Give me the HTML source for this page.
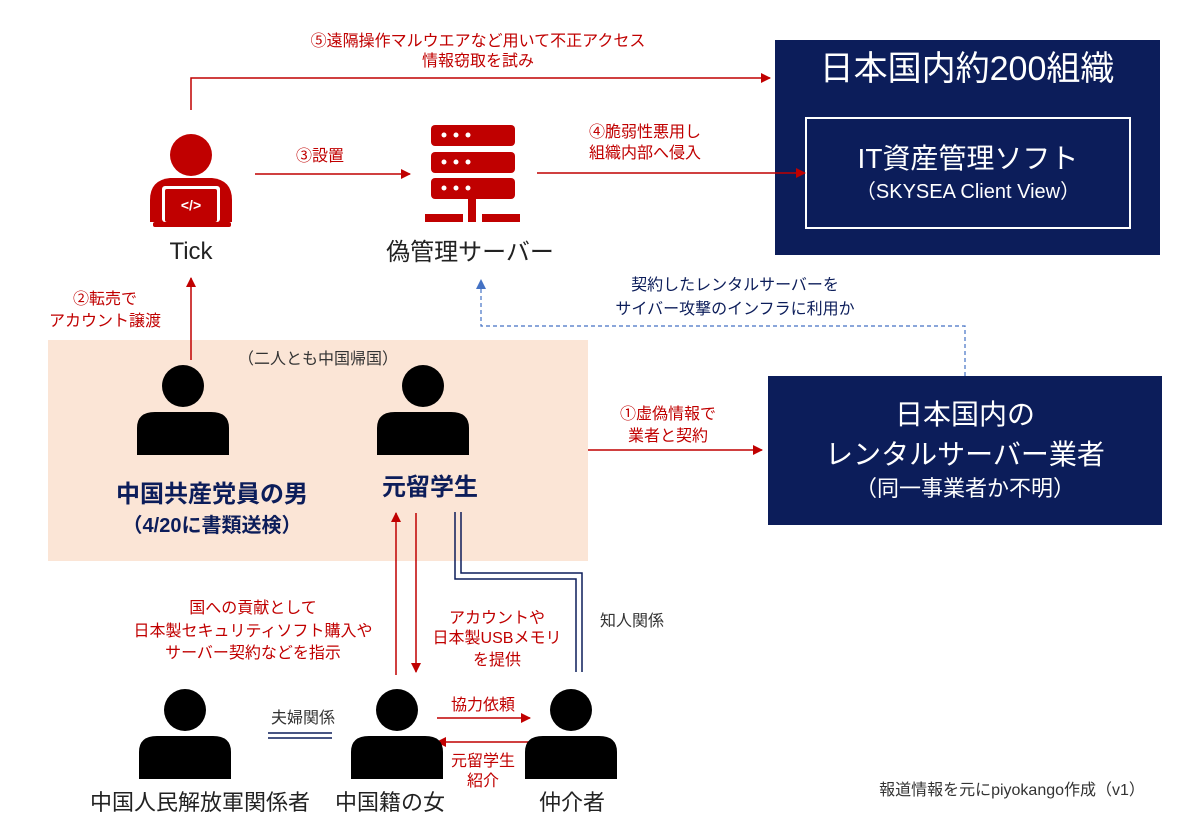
<!DOCTYPE html>
<html><head><meta charset="utf-8"><style>
body{margin:0;background:#fff;}
svg text{font-family:"Liberation Sans","Noto Sans CJK JP",sans-serif;}
</style></head><body>
<svg width="1200" height="831" viewBox="0 0 1200 831" xmlns="http://www.w3.org/2000/svg">
<defs>
<marker id="ar" markerWidth="10" markerHeight="10" refX="9" refY="5" orient="auto" markerUnits="userSpaceOnUse"><path d="M0,0 L10,5 L0,10 z" fill="#c00000"/></marker>
<marker id="ab" markerWidth="10" markerHeight="10" refX="9" refY="5" orient="auto" markerUnits="userSpaceOnUse"><path d="M0,0 L10,5 L0,10 z" fill="#4472c4"/></marker>
<g id="person"><circle cx="0" cy="-24" r="21"/><path d="M-46,45 L-46,18 Q-46,2 -28,2 L28,2 Q46,2 46,18 L46,45 z"/></g>
</defs>
<rect x="48" y="340" width="540" height="221" fill="#fbe5d6"/>
<rect x="775" y="40" width="385" height="215" fill="#0c1d5a"/>
<text x="967" y="80" font-size="34" fill="#fff" text-anchor="middle">日本国内約200組織</text>
<rect x="806" y="118" width="324" height="110" fill="none" stroke="#fff" stroke-width="2"/>
<text x="968" y="168" font-size="28" fill="#fff" text-anchor="middle">IT資産管理ソフト</text>
<text x="968" y="198" font-size="20" fill="#fff" text-anchor="middle">（SKYSEA Client View）</text>
<rect x="768" y="376" width="394" height="149" fill="#0c1d5a"/>
<text x="965" y="424" font-size="28" fill="#fff" text-anchor="middle">日本国内の</text>
<text x="965" y="464" font-size="28" fill="#fff" text-anchor="middle">レンタルサーバー業者</text>
<text x="965" y="496" font-size="22" fill="#fff" text-anchor="middle">（同一事業者か不明）</text>
<g fill="#c00000">
<circle cx="191" cy="155" r="21"/>
<path d="M150,222 L150,200 Q150,180 170,178 L212,178 Q232,180 232,200 L232,222 z"/>
<rect x="162" y="186" width="58" height="36" rx="3" fill="#fff"/>
<rect x="165" y="189" width="52" height="33" rx="2"/>
<rect x="153" y="222" width="78" height="5" rx="2"/>
</g>
<text x="191" y="210" font-size="14" fill="#fff" text-anchor="middle" font-weight="bold">&lt;/&gt;</text>
<text x="191" y="259" font-size="24" fill="#222" text-anchor="middle">Tick</text>
<g fill="#c00000">
<rect x="431" y="125" width="84" height="21" rx="4"/>
<rect x="431" y="152" width="84" height="21" rx="4"/>
<rect x="431" y="178" width="84" height="21" rx="4"/>
<rect x="468" y="199" width="8" height="15"/>
<rect x="425" y="214" width="38" height="8"/><rect x="468" y="214" width="8" height="8"/><rect x="482" y="214" width="38" height="8"/>
</g>
<g fill="#fff"><circle cx="444" cy="135" r="2.5"/><circle cx="456" cy="135" r="2.5"/><circle cx="468" cy="135" r="2.5"/>
<circle cx="444" cy="162" r="2.5"/><circle cx="456" cy="162" r="2.5"/><circle cx="468" cy="162" r="2.5"/>
<circle cx="444" cy="188" r="2.5"/><circle cx="456" cy="188" r="2.5"/><circle cx="468" cy="188" r="2.5"/></g>
<text x="470" y="260" font-size="24" fill="#222" text-anchor="middle">偽管理サーバー</text>
<g stroke="#c00000" stroke-width="1.5" fill="none">
<path d="M191,110 L191,78 L770,78" marker-end="url(#ar)"/>
<path d="M255,174 L410,174" marker-end="url(#ar)"/>
<path d="M537,173 L805,173" marker-end="url(#ar)"/>
<path d="M191,360 L191,278" marker-end="url(#ar)"/>
<path d="M588,450 L762,450" marker-end="url(#ar)"/>
<path d="M396,675 L396,513" marker-end="url(#ar)"/>
<path d="M416,513 L416,672" marker-end="url(#ar)"/>
<path d="M437,718 L530,718" marker-end="url(#ar)"/>
<path d="M530,742 L437,742" marker-end="url(#ar)"/>
</g>
<path d="M965,376 L965,326 L481,326 L481,280" stroke="#4472c4" stroke-width="1.2" stroke-dasharray="4,3" fill="none" marker-end="url(#ab)"/>
<g stroke="#0c1d5a" stroke-width="1.5" fill="none">
<path d="M455,512 L455,579 L576,579 L576,672"/>
<path d="M461,512 L461,573 L582,573 L582,672"/>
<path d="M268,733 L332,733"/><path d="M268,738 L332,738"/>
</g>
<g fill="#c00000" font-size="16" text-anchor="middle">
<text x="478" y="46">⑤遠隔操作マルウエアなど用いて不正アクセス</text>
<text x="478" y="66">情報窃取を試み</text>
<text x="320" y="161">③設置</text>
<text x="645" y="137">④脆弱性悪用し</text>
<text x="645" y="158">組織内部へ侵入</text>
<text x="105" y="304">②転売で</text>
<text x="105" y="326">アカウント譲渡</text>
<text x="668" y="419">①虚偽情報で</text>
<text x="668" y="441">業者と契約</text>
<text x="253" y="613">国への貢献として</text>
<text x="253" y="636">日本製セキュリティソフト購入や</text>
<text x="253" y="658">サーバー契約などを指示</text>
<text x="497" y="623">アカウントや</text>
<text x="497" y="643">日本製USBメモリ</text>
<text x="497" y="665">を提供</text>
<text x="483" y="710">協力依頼</text>
<text x="483" y="766">元留学生</text>
<text x="483" y="786">紹介</text>
</g>
<g fill="#0c1d5a" font-size="16" text-anchor="middle">
<text x="735" y="290">契約したレンタルサーバーを</text>
<text x="735" y="314">サイバー攻撃のインフラに利用か</text>
</g>
<g fill="#333" font-size="16" text-anchor="middle">
<text x="318" y="364">（二人とも中国帰国）</text>
<text x="632" y="626">知人関係</text>
<text x="303" y="723">夫婦関係</text>
<text x="1012" y="795">報道情報を元にpiyokango作成（v1）</text>
</g>
<g fill="#000">
<use href="#person" x="183" y="410"/>
<use href="#person" x="423" y="410"/>
<use href="#person" x="185" y="734"/>
<use href="#person" x="397" y="734"/>
<use href="#person" x="571" y="734"/>
</g>
<g fill="#0c1d5a" font-weight="bold" text-anchor="middle">
<text x="212" y="502" font-size="24">中国共産党員の男</text>
<text x="212" y="532" font-size="20">（4/20に書類送検）</text>
<text x="430" y="495" font-size="24">元留学生</text>
</g>
<g fill="#222" font-size="22" text-anchor="middle">
<text x="200" y="810">中国人民解放軍関係者</text>
<text x="390" y="810">中国籍の女</text>
<text x="572" y="810">仲介者</text>
</g>
</svg>
</body></html>
